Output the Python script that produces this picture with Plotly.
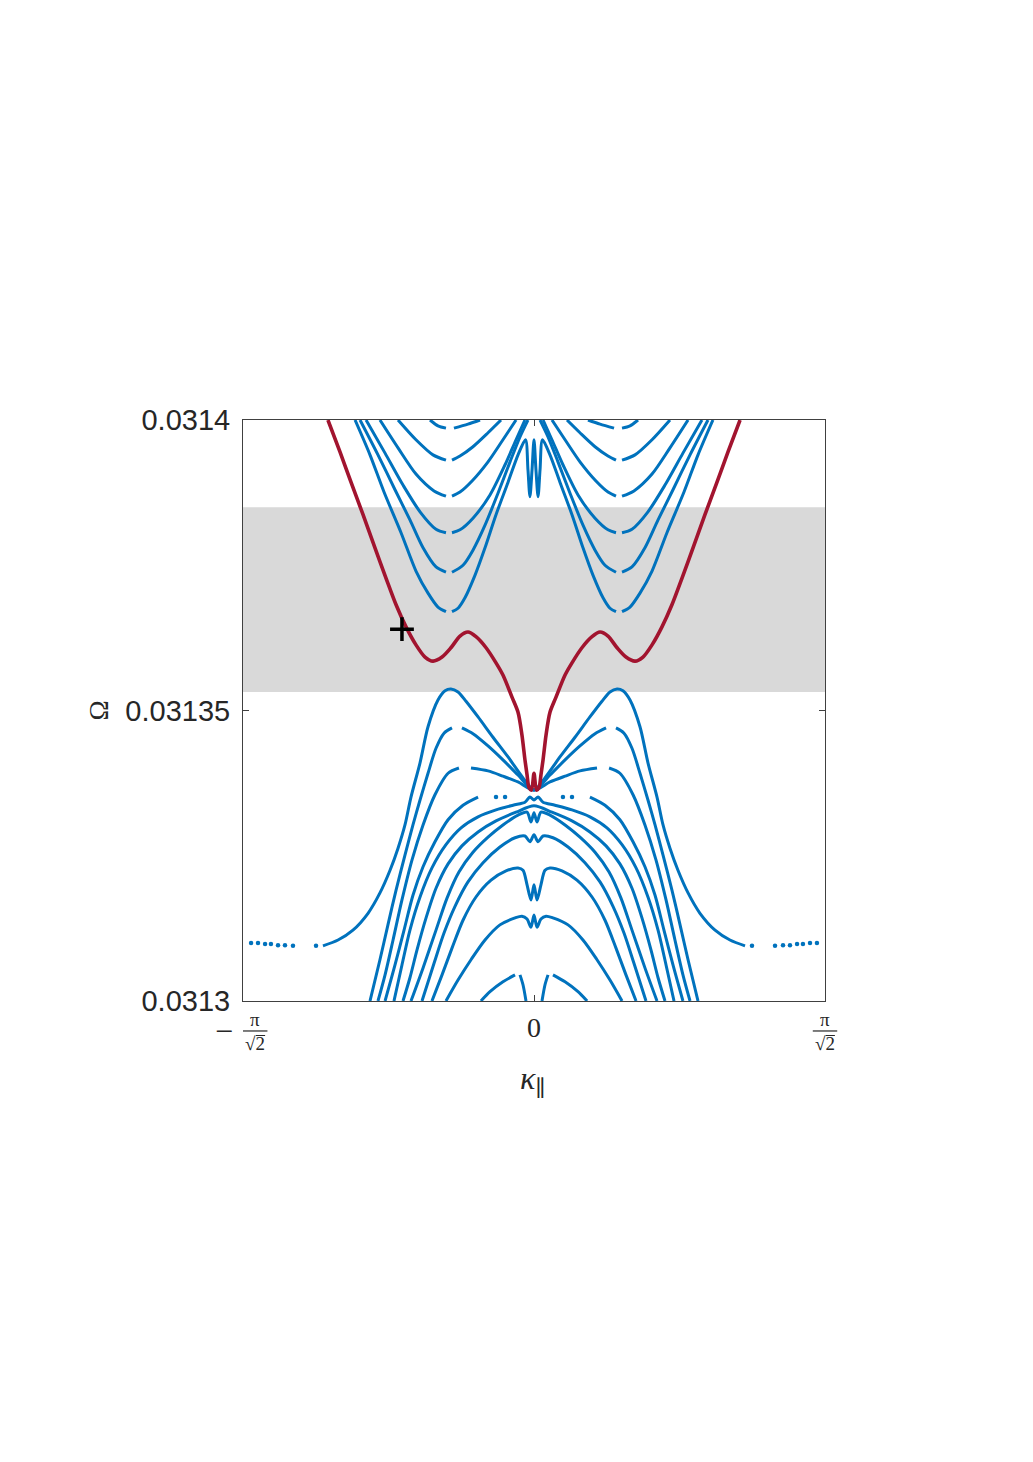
import numpy as np
import plotly.graph_objects as go

BLUE = '#0072BD'
RED = '#A2142F'

k_max = np.pi / np.sqrt(2)
x_tickvals = [-k_max, 0, k_max]
y_tickvals = [0.0313, 0.03135, 0.0314]
y_ticktext = ['0.0313', '0.03135', '0.0314']

band_lo, band_hi = 0.0313532, 0.0313850
marker_k, marker_w = [-1.008], [0.0313640]

# edge state (red), right half starting at kappa = 0
red_k = [0, 0.019, 0.038, 0.053, 0.069, 0.092, 0.122, 0.168, 0.237, 0.290, 0.366, 0.443, 0.504,
         0.565, 0.634, 0.702, 0.771, 0.832, 0.901, 0.977, 1.053, 1.130, 1.214, 1.305, 1.397, 1.481, 1.573]
red_w = [0.0313392, 0.0313363, 0.0313367, 0.0313389, 0.0313415, 0.0313458, 0.0313497, 0.0313523,
         0.0313561, 0.0313582, 0.0313608, 0.0313627, 0.0313635, 0.0313628, 0.0313608, 0.0313592,
         0.0313585, 0.0313592, 0.0313613, 0.0313644, 0.0313682, 0.0313728, 0.0313780, 0.0313837,
         0.0313893, 0.0313945, 0.0314000]

# upper bulk bands (right side, mirrored to the left)
u1_in_k = [0, 0.015, 0.031, 0.046, 0.065, 0.122, 0.198, 0.290, 0.374, 0.450, 0.527, 0.580, 0.626]
u1_in_w = [0.0313966, 0.0313914, 0.0313868, 0.0313914, 0.0313966, 0.0313940, 0.0313893, 0.0313837,
           0.0313780, 0.0313733, 0.0313694, 0.0313676, 0.0313670]
u1_out_k = [0.672, 0.733, 0.809, 0.901, 1.015, 1.145, 1.252, 1.366]
u1_out_w = [0.0313670, 0.0313678, 0.0313702, 0.0313740, 0.0313806, 0.0313876, 0.0313940, 0.0314000]

u2_in_k = [0.046, 0.107, 0.183, 0.275, 0.374, 0.466, 0.542, 0.626]
u2_in_w = [0.0314000, 0.0313971, 0.0313928, 0.0313874, 0.0313819, 0.0313776, 0.0313750, 0.0313738]
u2_out_k = [0.672, 0.748, 0.847, 0.947, 1.061, 1.191, 1.328]
u2_out_w = [0.0313738, 0.0313747, 0.0313780, 0.0313828, 0.0313880, 0.0313940, 0.0314000]

u3_in_k = [0.069, 0.137, 0.221, 0.336, 0.466, 0.565, 0.626]
u3_in_w = [0.0314000, 0.0313966, 0.0313923, 0.0313871, 0.0313831, 0.0313811, 0.0313806]
u3_out_k = [0.672, 0.748, 0.870, 1.000, 1.137, 1.282]
u3_out_w = [0.0313806, 0.0313812, 0.0313842, 0.0313888, 0.0313943, 0.0314000]

u4_in_k = [0.137, 0.237, 0.351, 0.473, 0.565, 0.626]
u4_in_w = [0.0314000, 0.0313966, 0.0313928, 0.0313895, 0.0313876, 0.0313869]
u4_out_k = [0.672, 0.763, 0.901, 1.038, 1.176]
u4_out_w = [0.0313869, 0.0313878, 0.0313907, 0.0313952, 0.0314000]

u5_in_k = [0.252, 0.351, 0.466, 0.565, 0.626]
u5_in_w = [0.0314000, 0.0313978, 0.0313954, 0.0313938, 0.0313931]
u5_out_k = [0.672, 0.771, 0.901, 1.038]
u5_out_w = [0.0313931, 0.0313940, 0.0313966, 0.0314000]

u6_in_k = [0.412, 0.504, 0.611]
u6_in_w = [0.0314000, 0.0313993, 0.0313986]
u6_out_k = [0.672, 0.733, 0.794]
u6_out_w = [0.0313986, 0.0313990, 0.0314000]

# lower bulk bands (right side, mirrored to the left)
l1_k = [0, 0.084, 0.198, 0.313, 0.427, 0.519, 0.580, 0.634, 0.679, 0.733, 0.809, 0.870, 0.939,
        0.985, 1.038, 1.099, 1.176, 1.267, 1.382, 1.496, 1.611]
l1_w = [0.0313363, 0.0313384, 0.0313420, 0.0313454, 0.0313489, 0.0313516, 0.0313532, 0.0313537,
        0.0313534, 0.0313518, 0.0313472, 0.0313410, 0.0313351, 0.0313303, 0.0313263, 0.0313225,
        0.0313186, 0.0313151, 0.0313122, 0.0313105, 0.0313095]
tail_k = [1.664, 1.840, 1.901, 1.954, 2.008, 2.053, 2.107, 2.160]
tail_w = [0.0313095, 0.0313095, 0.0313096, 0.0313096, 0.0313098, 0.0313098, 0.0313100, 0.0313100]

l2_in_k = [0, 0.122, 0.237, 0.351, 0.466, 0.550]
l2_in_w = [0.0313363, 0.0313389, 0.0313415, 0.0313439, 0.0313460, 0.0313470]
l2_out_k = [0.626, 0.687, 0.748, 0.809, 0.870, 0.924, 0.985, 1.053, 1.115, 1.176, 1.252]
l2_out_w = [0.0313470, 0.0313461, 0.0313435, 0.0313392, 0.0313346, 0.0313303, 0.0313251,
            0.0313191, 0.0313131, 0.0313071, 0.0313000]

l3_in_k = [0, 0.122, 0.237, 0.351, 0.481]
l3_in_w = [0.0313363, 0.0313377, 0.0313387, 0.0313396, 0.0313401]
l3_out_k = [0.573, 0.656, 0.756, 0.847, 0.931, 1.008, 1.076, 1.137, 1.191]
l3_out_w = [0.0313401, 0.0313392, 0.0313355, 0.0313303, 0.0313243, 0.0313174, 0.0313105,
            0.0313045, 0.0313000]

l4_dot_k = [0.221, 0.290]
l4_dot_w = [0.0313351, 0.0313351]
l4_k = [0.427, 0.542, 0.656, 0.756, 0.847, 0.924, 0.992, 1.061, 1.137]
l4_w = [0.0313351, 0.0313337, 0.0313312, 0.0313274, 0.0313231, 0.0313182, 0.0313122, 0.0313062, 0.0313000]

c4_k = [0, 0.031, 0.069, 0.160, 0.290, 0.427, 0.557, 0.672, 0.779, 0.870, 0.947, 1.008, 1.069]
c4_w = [0.0313346, 0.0313351, 0.0313342, 0.0313337, 0.0313329, 0.0313317, 0.0313298, 0.0313269,
        0.0313229, 0.0313179, 0.0313122, 0.0313062, 0.0313000]

cx_k = [0, 0.137, 0.290, 0.427, 0.550, 0.656, 0.748, 0.824, 0.893, 0.947, 1.000]
cx_w = [0.0313336, 0.0313325, 0.0313310, 0.0313291, 0.0313267, 0.0313236, 0.0313194, 0.0313143,
        0.0313088, 0.0313040, 0.0313000]

c5_k = [0, 0.023, 0.053, 0.122, 0.237, 0.351, 0.466, 0.573, 0.664, 0.748, 0.847, 0.939]
c5_w = [0.0313324, 0.0313308, 0.0313325, 0.0313320, 0.0313303, 0.0313282, 0.0313256, 0.0313222,
        0.0313177, 0.0313122, 0.0313057, 0.0313000]

c6_k = [0, 0.031, 0.069, 0.145, 0.260, 0.389, 0.504, 0.603, 0.687, 0.763, 0.855]
c6_w = [0.0313286, 0.0313274, 0.0313284, 0.0313281, 0.0313265, 0.0313238, 0.0313205, 0.0313163,
        0.0313117, 0.0313065, 0.0313000]

c7_k = [0, 0.023, 0.053, 0.084, 0.122, 0.214, 0.328, 0.443, 0.542, 0.626, 0.702, 0.779]
c7_w = [0.0313200, 0.0313174, 0.0313200, 0.0313225, 0.0313229, 0.0313224, 0.0313208, 0.0313179,
        0.0313139, 0.0313091, 0.0313045, 0.0313000]

c8_k = [0, 0.023, 0.053, 0.092, 0.145, 0.260, 0.374, 0.481, 0.580, 0.672]
c8_w = [0.0313148, 0.0313127, 0.0313141, 0.0313146, 0.0313143, 0.0313131, 0.0313105, 0.0313071,
        0.0313036, 0.0313000]

c9_in_k = [0.061, 0.084, 0.107]
c9_in_w = [0.0313000, 0.0313028, 0.0313045]
c9_out_k = [0.145, 0.237, 0.336, 0.405]
c9_out_w = [0.0313045, 0.0313033, 0.0313016, 0.0313000]


def both_sides(k, w):
    # curves starting at kappa = 0 are joined with their mirror image
    if k[0] == 0:
        return [([-v for v in k[::-1]] + k[1:], w[::-1] + w[1:])]
    return [(k, w), ([-v for v in k], w)]


fig = go.Figure()


def add_curve(k, w, color=BLUE, width=3):
    for kk, ww in both_sides(k, w):
        fig.add_trace(go.Scatter(x=kk, y=ww, mode='lines',
                                 line=dict(color=color, width=width, shape='spline', smoothing=0.8),
                                 hoverinfo='skip', showlegend=False))


def add_dots(k, w):
    for kk, ww in both_sides(k, w):
        fig.add_trace(go.Scatter(x=kk, y=ww, mode='markers',
                                 marker=dict(color=BLUE, size=4.5),
                                 hoverinfo='skip', showlegend=False))


upper = [(u1_in_k, u1_in_w), (u1_out_k, u1_out_w), (u2_in_k, u2_in_w), (u2_out_k, u2_out_w),
         (u3_in_k, u3_in_w), (u3_out_k, u3_out_w), (u4_in_k, u4_in_w), (u4_out_k, u4_out_w),
         (u5_in_k, u5_in_w), (u5_out_k, u5_out_w), (u6_in_k, u6_in_w), (u6_out_k, u6_out_w)]
lower = [(l1_k, l1_w), (l2_in_k, l2_in_w), (l2_out_k, l2_out_w), (l3_in_k, l3_in_w),
         (l3_out_k, l3_out_w), (l4_k, l4_w), (c4_k, c4_w), (cx_k, cx_w), (c5_k, c5_w),
         (c6_k, c6_w), (c7_k, c7_w), (c8_k, c8_w), (c9_in_k, c9_in_w), (c9_out_k, c9_out_w)]

for k, w in upper + lower:
    add_curve(k, w)
add_dots(tail_k, tail_w)
add_dots(l4_dot_k, l4_dot_w)

add_curve(red_k, red_w, color=RED, width=3.6)

fig.add_trace(go.Scatter(x=marker_k, y=marker_w, mode='markers',
                         marker=dict(symbol='cross-thin', size=17, color='black',
                                     line=dict(color='black', width=3.5)),
                         hoverinfo='skip', showlegend=False))

# gap region
fig.add_shape(type='rect', xref='paper', x0=0, x1=1, yref='y', y0=band_lo, y1=band_hi,
              fillcolor='#D9D9D9', line=dict(width=0), layer='below')

axis_col = '#404040'
fig.update_xaxes(range=[-k_max, k_max], showgrid=False, zeroline=False, showline=True,
                 linecolor=axis_col, linewidth=1, mirror='ticks', ticks='inside', ticklen=6,
                 tickcolor=axis_col, tickvals=x_tickvals, showticklabels=False)
fig.update_yaxes(range=[0.0313, 0.0314], showgrid=False, zeroline=False, showline=True,
                 linecolor=axis_col, linewidth=1, mirror='ticks', ticks='inside', ticklen=6,
                 tickcolor=axis_col, tickvals=y_tickvals, ticktext=y_ticktext,
                 tickfont=dict(family='Liberation Sans, Arial, sans-serif', size=29, color='#262626'),
                 ticklabelstandoff=6)

serif = 'Liberation Serif, DejaVu Serif, serif'
txt = '#262626'


def px_x(k):
    # paper coordinate of a kappa value
    return (k + k_max) / (2 * k_max)


ann = []
# x tick labels: 0 and +-pi/sqrt(2) as stacked fractions
ann.append(dict(x=px_x(0), y=-0.045, text='0', font=dict(family=serif, size=28, color=txt)))
for xc in [px_x(-k_max) + 0.021, px_x(k_max)]:
    ann.append(dict(x=xc, y=-0.032, text='π', font=dict(family=serif, size=19, color=txt)))
    ann.append(dict(x=xc, y=-0.074, text='√2', font=dict(family=serif, size=19, color=txt)))
    fig.add_shape(type='line', xref='paper', yref='paper', x0=xc - 0.021, x1=xc + 0.021,
                  y0=-0.0516, y1=-0.0516, line=dict(color=txt, width=1.2))
    fig.add_shape(type='line', xref='paper', yref='paper', x0=xc + 0.001, x1=xc + 0.017,
                  y0=-0.0594, y1=-0.0594, line=dict(color=txt, width=1))
ann.append(dict(x=px_x(-k_max) - 0.033, y=-0.0516, text='−', font=dict(family=serif, size=32, color=txt)))
# axis labels
ann.append(dict(x=0.498, y=-0.136, text='<i>κ</i><sub>∥</sub>', font=dict(family=serif, size=32, color=txt)))
ann.append(dict(x=-0.249, y=0.5, text='Ω', textangle=-90, font=dict(family=serif, size=27, color=txt)))
for a in ann:
    a.update(xref='paper', yref='paper', showarrow=False, xanchor='center', yanchor='middle')

# page body adds 8 px, margins compensate so the plot area sits at x 243-825, y 420-1001
fig.update_layout(width=1033, height=1462, margin=dict(l=235, r=216, t=412, b=469),
                  plot_bgcolor='white', paper_bgcolor='white', annotations=ann, showlegend=False)

fig.write_html("out.html")
